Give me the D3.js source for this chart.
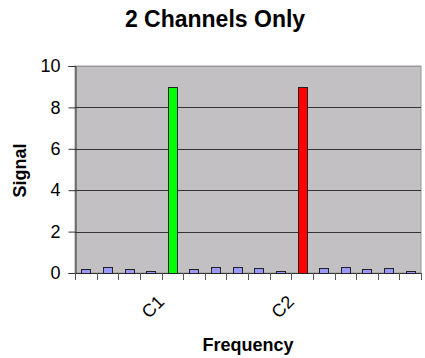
<!DOCTYPE html>
<html>
<head>
<meta charset="utf-8">
<script src="https://cdn.jsdelivr.net/npm/d3@7"></script>
<style>
  body { margin: 0; background: #fff; }
  svg text { font-family: "Liberation Sans", Arial, sans-serif; }
</style>
</head>
<body>
<div id="chart"></div>
<script>
// 16 frequency bins, only two of them labelled
var categories = ['f1','f2','f3','f4','C1','f6','f7','f8','f9','f10','C2','f12','f13','f14','f15','f16'];
var tickLabels = {'C1': 'C1', 'C2': 'C2'};
var signal = [0.19, 0.29, 0.19, 0.1, 9, 0.19, 0.29, 0.29, 0.24, 0.1, 9, 0.24, 0.29, 0.19, 0.24, 0.1];
var barColors = {'C1': '#00ff00', 'C2': '#ff0000'};
var yTicks = [0, 2, 4, 6, 8, 10];

var fullWidth = 425;
var fullHeight = 358;
var margin = {top: 66, right: 4, bottom: 85, left: 75};
var width = fullWidth - margin.left - margin.right;
var height = fullHeight - margin.top - margin.bottom;

var x = d3.scaleBand().domain(categories).range([0, width]);
var y = d3.scaleLinear().domain([0, 10]).range([height, 0]);

var root = d3.select("#chart")
  .append("svg")
    .attr("width", fullWidth)
    .attr("height", fullHeight);

root.append("text")
  .attr("x", 215)
  .attr("y", 27)
  .attr("text-anchor", "middle")
  .style("font-size", "23px")
  .style("font-weight", "bold")
  .text("2 Channels Only");

var svg = root.append("g")
  .attr("transform", "translate(" + margin.left + "," + margin.top + ")");

// plot area
svg.append("rect")
  .attr("width", width)
  .attr("height", height)
  .attr("fill", "#c2c0c2")
  .attr("stroke", "#999")
  .attr("stroke-width", 1);

// gridlines
svg.selectAll(".grid")
  .data(yTicks)
  .enter().append("line")
    .attr("class", "grid")
    .attr("x1", 0)
    .attr("x2", width)
    .attr("y1", function(d) { return Math.round(y(d)) + 0.5; })
    .attr("y2", function(d) { return Math.round(y(d)) + 0.5; })
    .attr("stroke", function(d) { return d == 10 ? "#999" : "#333"; });

// y axis
var yAxis = svg.append("g")
  .attr("transform", "translate(0.5,0)")
  .call(d3.axisLeft(y).tickValues(yTicks).tickSize(7).tickPadding(8));
yAxis.select(".domain").attr("stroke", "#333");
yAxis.selectAll(".tick line").attr("stroke", "#333");
yAxis.selectAll("text")
  .style("font-size", "18px")
  .attr("fill", "#000");

// x axis: ticks on the band boundaries
var bounds = categories.map(function(d) { return x(d); }).concat([width]);
svg.append("line")
  .attr("x1", 0)
  .attr("x2", width)
  .attr("y1", height + 0.5)
  .attr("y2", height + 0.5)
  .attr("stroke", "#333");
svg.selectAll(".xtick")
  .data(bounds)
  .enter().append("line")
    .attr("class", "xtick")
    .attr("x1", function(d) { return Math.round(d) + 0.5; })
    .attr("x2", function(d) { return Math.round(d) + 0.5; })
    .attr("y1", height)
    .attr("y2", height + 7)
    .attr("stroke", "#555");

// bars
var barW = 9;
svg.selectAll(".bar")
  .data(signal)
  .enter().append("rect")
    .attr("class", "bar")
    .attr("x", function(d, i) { return Math.round(x(categories[i]) + x.bandwidth() / 2 - barW / 2) + 0.5; })
    .attr("y", function(d) { return Math.round(y(d)) + 0.5; })
    .attr("width", barW)
    .attr("height", function(d) { return Math.round(height - y(d)); })
    .attr("fill", function(d, i) { return barColors[categories[i]] || "#9999ff"; })
    .attr("stroke", "#222")
    .attr("stroke-width", 1);

// category labels
svg.selectAll(".xlabel")
  .data(categories.filter(function(d) { return tickLabels[d]; }))
  .enter().append("text")
    .attr("class", "xlabel")
    .attr("text-anchor", "end")
    .style("font-size", "18px")
    .attr("transform", function(d) {
      var cx = x(d) + x.bandwidth() / 2 - 7;
      return "translate(" + cx + "," + (height + 30) + ") rotate(-45)";
    })
    .text(function(d) { return tickLabels[d]; });

// axis titles
svg.append("text")
  .attr("x", width / 2)
  .attr("y", height + 78)
  .attr("text-anchor", "middle")
  .style("font-size", "18px")
  .style("font-weight", "bold")
  .text("Frequency");

root.append("text")
  .attr("transform", "translate(26," + (margin.top + height / 2 + 1) + ") rotate(-90)")
  .attr("text-anchor", "middle")
  .style("font-size", "18px")
  .style("font-weight", "bold")
  .text("Signal");
</script>
</body>
</html>
